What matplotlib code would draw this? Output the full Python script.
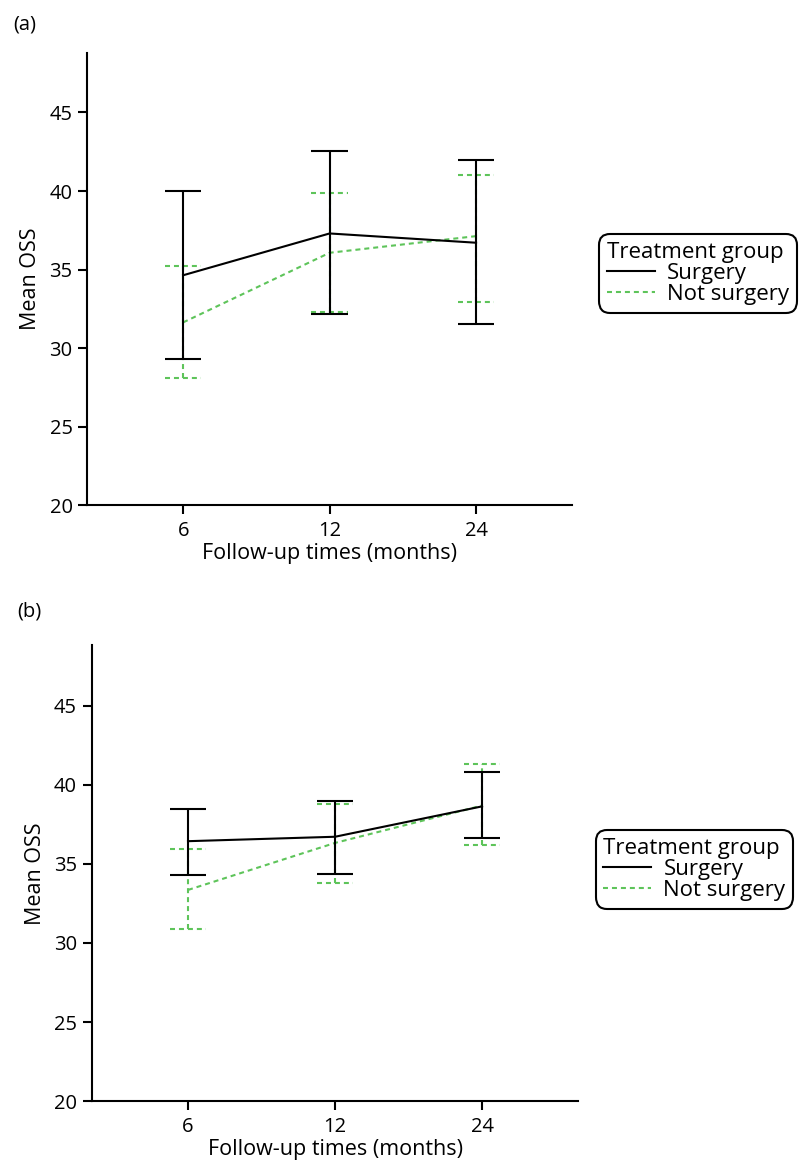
import numpy as np
import matplotlib.pyplot as plt
from matplotlib.lines import Line2D

plt.rcParams['font.family'] = ['Open Sans', 'DejaVu Sans']

months = ['6', '12', '24']

# panel (a)
a_surg_mean = [34.64, 37.30, 36.71]
a_surg_lo = [29.30, 32.19, 31.55]
a_surg_hi = [40.00, 42.52, 41.95]
a_not_mean = [31.64, 36.07, 37.13]
a_not_lo = [28.07, 32.30, 32.94]
a_not_hi = [35.24, 39.87, 41.05]

# panel (b)
b_surg_mean = [36.43, 36.71, 38.63]
b_surg_lo = [34.31, 34.33, 36.60]
b_surg_hi = [38.44, 38.96, 40.82]
b_not_mean = [33.35, 36.32, 38.68]
b_not_lo = [30.90, 33.82, 36.18]
b_not_hi = [35.95, 38.75, 41.31]

GREEN = '#5ec45a'
DASH = (0, (2.4, 1.9))
CAP = 0.125
LW = 1.5


def draw_group(ax, mean, lo, hi, color, ls, z):
    x = np.arange(1, len(mean) + 1)
    ax.plot(x, mean, color=color, linestyle=ls, lw=LW, zorder=z)
    ax.vlines(x, lo, hi, color=color, linestyle=ls, lw=LW, zorder=z)
    ax.hlines(lo, x - CAP, x + CAP, color=color, linestyle=ls, lw=LW, zorder=z)
    ax.hlines(hi, x - CAP, x + CAP, color=color, linestyle=ls, lw=LW, zorder=z)


def panel(ax, surg, notsurg, legend_anchor):
    draw_group(ax, *notsurg, GREEN, DASH, 2)
    draw_group(ax, *surg, 'black', '-', 3)
    ax.set_xlim(0.345, 3.655)
    ax.set_ylim(20, 48.8)
    ax.set_xticks([1, 2, 3], months)
    ax.set_yticks([20, 25, 30, 35, 40, 45])
    for s in ['top', 'right']:
        ax.spines[s].set_visible(False)
    for s in ['left', 'bottom']:
        ax.spines[s].set_linewidth(1.5)
    ax.tick_params(labelsize=14.5, width=1.5, length=6.5)
    ax.tick_params(axis='x', pad=5)
    ax.tick_params(axis='y', pad=4)
    ax.set_xlabel('Follow-up times (months)', fontsize=15.5, labelpad=1)
    ax.set_ylabel('Mean OSS', fontsize=15.5, labelpad=6)

    handles = [Line2D([], [], color='black', lw=LW),
               Line2D([], [], color=GREEN, lw=LW, linestyle=DASH)]
    leg = fig.legend(handles, ['Surgery', 'Not surgery'], title='Treatment group',
                     loc='upper left', bbox_to_anchor=legend_anchor,
                     bbox_transform=fig.transFigure, fontsize=16, title_fontsize=16,
                     alignment='left', handlelength=2.15, handletextpad=0.55,
                     labelspacing=0.0, borderpad=0.35, borderaxespad=0,
                     frameon=True, fancybox=True, framealpha=1)
    leg.get_frame().set_edgecolor('black')
    leg.get_frame().set_linewidth(1.5)
    leg.get_frame().set_boxstyle('round,pad=0,rounding_size=0.5')
    leg._legend_box.sep = 0


fig = plt.figure(figsize=(8, 11.67), dpi=100)
ax_a = fig.add_axes([0.109, 0.567, 0.606, 0.3878])
ax_b = fig.add_axes([0.1146, 0.0563, 0.6084, 0.3907])

panel(ax_a, (a_surg_mean, a_surg_lo, a_surg_hi), (a_not_mean, a_not_lo, a_not_hi),
      (0.749, 0.7995))
panel(ax_b, (b_surg_mean, b_surg_lo, b_surg_hi), (b_not_mean, b_not_lo, b_not_hi),
      (0.7446, 0.2888))

fig.text(0.016, 0.979, '(a)', fontsize=14.5, va='center', ha='left')
fig.text(0.021, 0.476, '(b)', fontsize=14.5, va='center', ha='left')

fig.savefig('out.png', dpi=100)
